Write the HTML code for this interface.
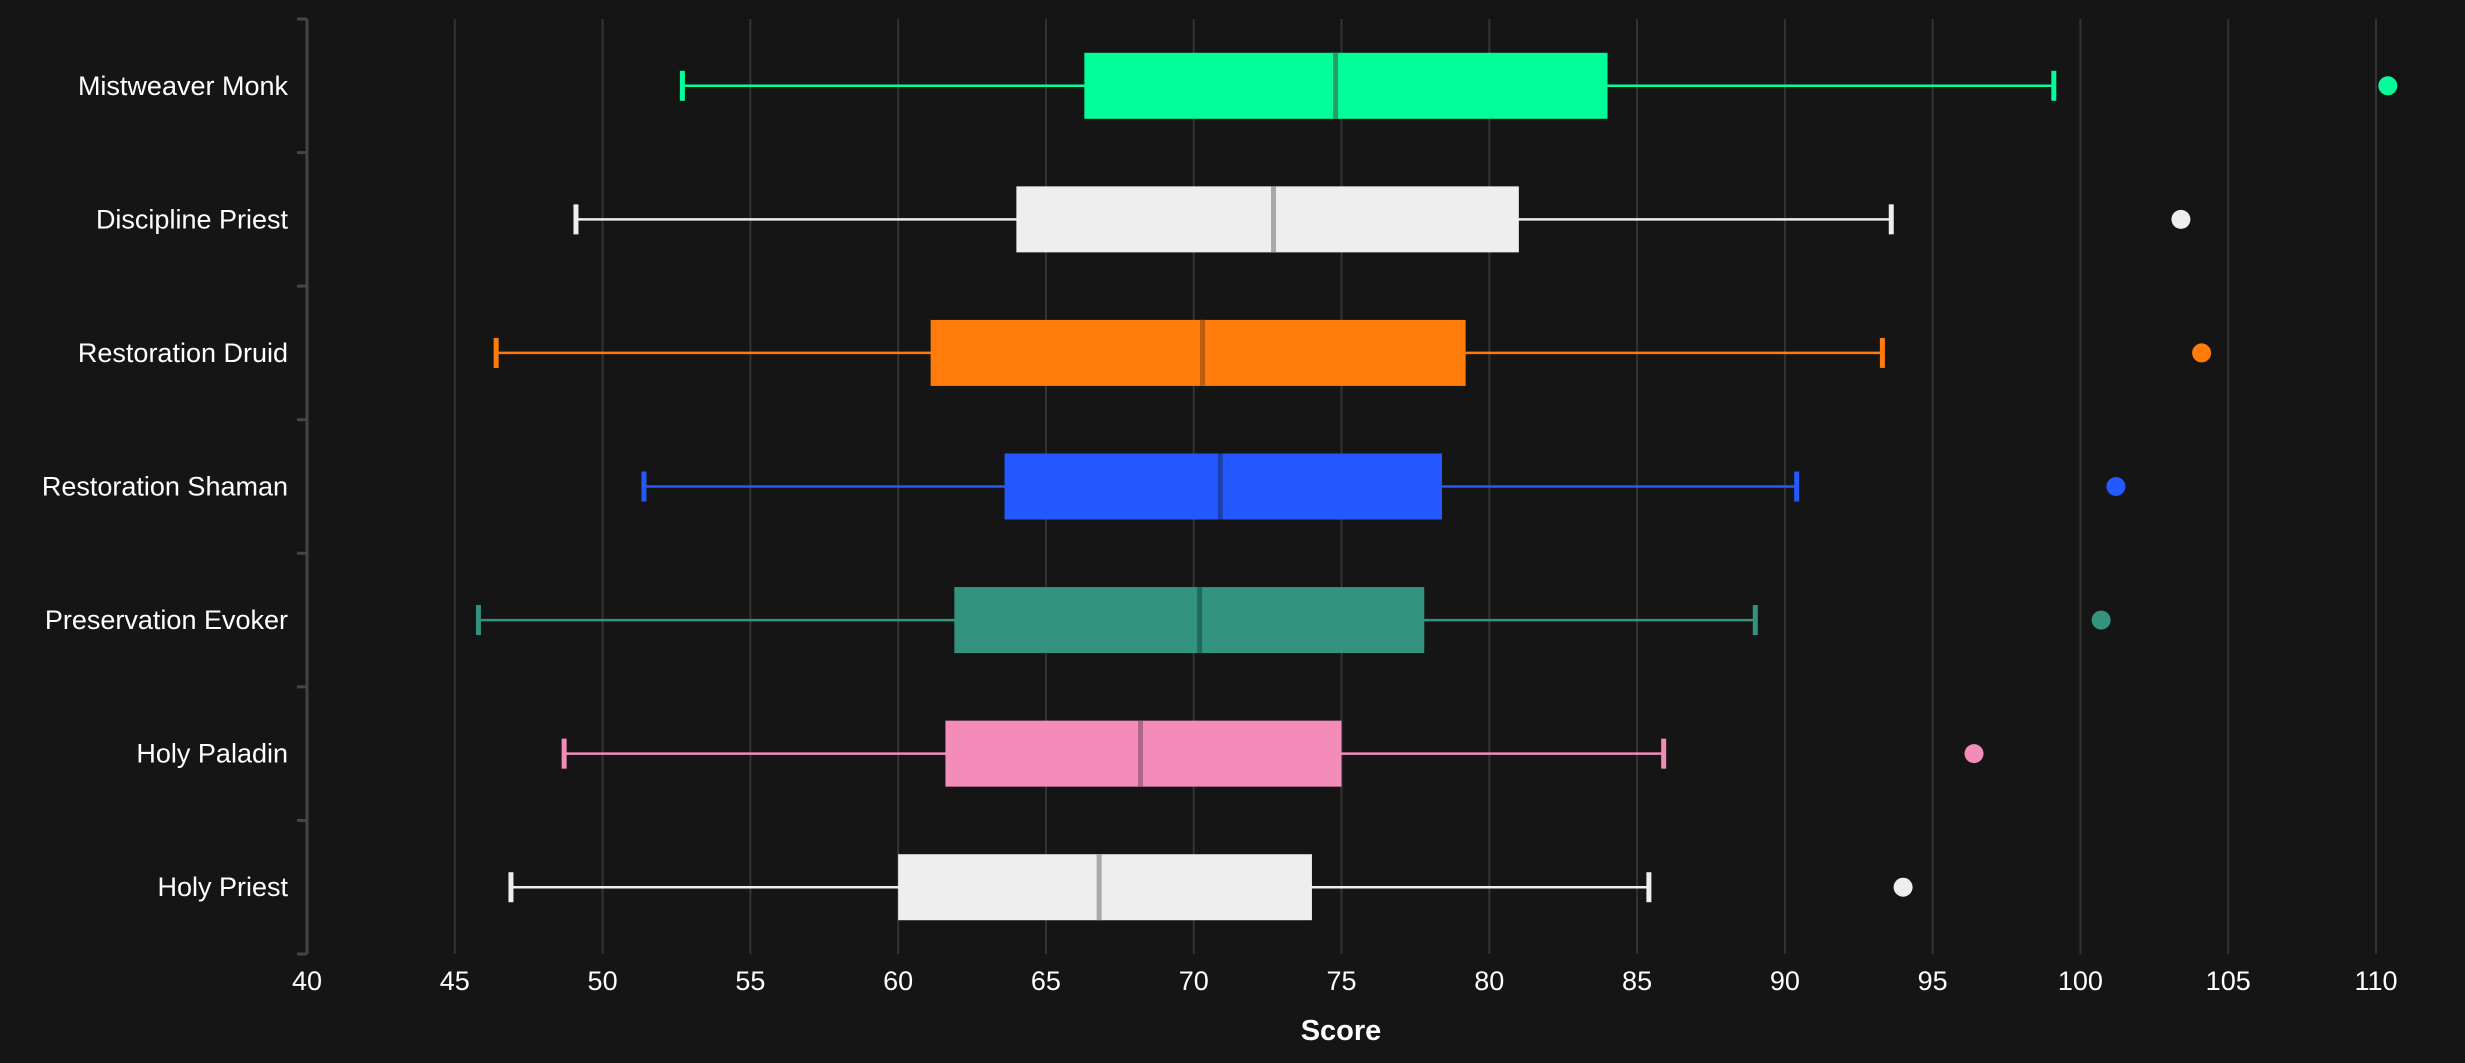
<!DOCTYPE html>
<html><head><meta charset="utf-8"><style>
html,body{margin:0;padding:0;background:#151515;}
svg{display:block;font-family:"Liberation Sans",sans-serif;}
</style></head><body>
<svg id="chart" width="2465" height="1063">
<rect width="2465" height="1063" fill="#151515"/>
<g id="grid"></g><g id="axes"></g><g id="boxes"></g>
<text x="1341" y="1040" fill="#ffffff" font-size="29" font-weight="bold" text-anchor="middle">Score</text>
</svg>
<script>
const categories=["Mistweaver Monk","Discipline Priest","Restoration Druid","Restoration Shaman","Preservation Evoker","Holy Paladin","Holy Priest"];
const whiskerLow=[52.7,49.1,46.4,51.4,45.8,48.7,46.9];
const q1=[66.3,64.0,61.1,63.6,61.9,61.6,60.0];
const medians=[74.8,72.7,70.3,70.9,70.2,68.2,66.8];
const q3=[84.0,81.0,79.2,78.4,77.8,75.0,74.0];
const whiskerHigh=[99.1,93.6,93.3,90.4,89.0,85.9,85.4];
const outliers=[110.4,103.4,104.1,101.2,100.7,96.4,94.0];
const xTicks=[40,45,50,55,60,65,70,75,80,85,90,95,100,105,110];
const colors=["#00ff98","#eeeeee","#ff7c0a","#2459ff","#33937f","#f48cba","#eeeeee"];
const medColors=["#2a9c6a","#a8a8a8","#b85c10","#1c3fb0","#22695a","#b06688","#a8a8a8"];
const NS="http://www.w3.org/2000/svg";
const X0=307,X1=2376,V0=40,V1=110,YT=19,YB=954;
const band=(YB-YT)/categories.length;
function x(v){return X0+(v-V0)*(X1-X0)/(V1-V0);}
function yc(i){return YT+band*(i+0.5);}
function mk(p,tag,attrs){const e=document.createElementNS(NS,tag);for(const k in attrs)e.setAttribute(k,attrs[k]);p.appendChild(e);return e;}
const grid=document.getElementById('grid'),axes=document.getElementById('axes'),boxes=document.getElementById('boxes');
xTicks.forEach(t=>{
  if(t>V0){const g=mk(grid,'line',{x1:x(t),x2:x(t),y1:YT,y2:YB,stroke:'#333333','stroke-width':2});
  
  }
  const l=mk(axes,'text',{x:x(t),y:990,fill:'#ffffff','font-size':27,'text-anchor':'middle'});
  l.textContent=t;
  
  
});
const ax=mk(axes,'line',{x1:X0,x2:X0,y1:YT,y2:YB,stroke:'#444444','stroke-width':3});


for(let i=0;i<=categories.length;i++){const tk=mk(axes,'line',{x1:X0-10,x2:X0,y1:YT+band*i,y2:YT+band*i,stroke:'#444444','stroke-width':3});

}
categories.forEach((c,i)=>{
  const cy=yc(i),col=colors[i];
  const l=mk(axes,'text',{x:288,y:cy+9,fill:'#ffffff','font-size':27,'text-anchor':'end'});
  l.textContent=c;
  
  
  const g=mk(boxes,'g',{});
  
  
  mk(g,'line',{x1:x(whiskerLow[i]),x2:x(whiskerHigh[i]),y1:cy,y2:cy,stroke:col,'stroke-width':2.5});
  mk(g,'line',{x1:x(whiskerLow[i]),x2:x(whiskerLow[i]),y1:cy-15,y2:cy+15,stroke:col,'stroke-width':5});
  mk(g,'line',{x1:x(whiskerHigh[i]),x2:x(whiskerHigh[i]),y1:cy-15,y2:cy+15,stroke:col,'stroke-width':5});
  mk(g,'rect',{x:x(q1[i]),y:cy-33,width:x(q3[i])-x(q1[i]),height:66,fill:col});
  mk(g,'line',{x1:x(medians[i]),x2:x(medians[i]),y1:cy-33,y2:cy+33,stroke:medColors[i],'stroke-width':5});
  const o=mk(g,'circle',{cx:x(outliers[i]),cy:cy,r:9.5,fill:col});
  
  
});
</script>
</body></html>
